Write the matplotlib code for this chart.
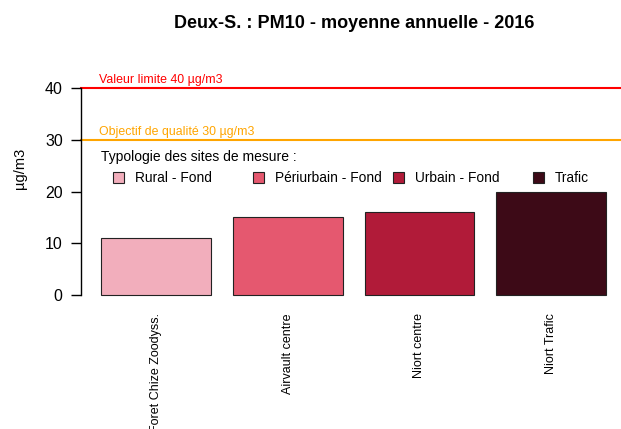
import matplotlib
matplotlib.use("Agg")
import matplotlib.pyplot as plt
from matplotlib.patches import Rectangle

sites = ["Foret Chize Zoodyss.", "Airvault centre", "Niort centre", "Niort Trafic"]
values = [11, 15, 16, 20]
types = ["Rural - Fond", "Périurbain - Fond", "Urbain - Fond", "Trafic"]
colors = ["#F2AEBC", "#E5586F", "#B11B39", "#3D0A17"]
yticks = [0, 10, 20, 30, 40]
limit_value = 40
quality_goal = 30

plt.rcParams['font.family'] = ['Liberation Sans', 'DejaVu Sans']

W, H = 621, 429
fig = plt.figure(figsize=(W / 100, H / 100), dpi=100)

# axes region in pixels
x0, x1 = 80.8, 621.0
y_top, y_bot = 79.7, 303.3
ax = fig.add_axes([x0 / W, 1 - y_bot / H, (x1 - x0) / W, (y_bot - y_top) / H])

centers = [0.7 + 1.2 * i for i in range(len(sites))]
ax.bar(centers, values, width=1.0, color=colors, edgecolor="#222222", linewidth=0.8, zorder=2)

ax.set_xlim(0.016, 0.016 + (x1 - x0) / 109.8)
ax.set_ylim(-1.6, 41.6)

for s in ["top", "right", "bottom"]:
    ax.spines[s].set_visible(False)
ax.spines["left"].set_bounds(0, 40)
ax.spines["left"].set_linewidth(1.0)
ax.set_yticks(yticks)
ax.set_yticklabels([str(v) for v in yticks], fontsize=11.5)
ax.tick_params(axis="y", length=7, width=1.0, pad=6)
ax.set_xticks(centers)
ax.set_xticklabels(sites, rotation=90, fontsize=9, va="top")
ax.tick_params(axis="x", length=0, pad=7)

fig.text(20 / W, 1 - 168 / H, "µg/m3", fontsize=10.5, rotation=90, ha="center", va="center")

ax.axhline(limit_value, color="#FF0000", linewidth=1.5, zorder=1, clip_on=False)
ax.axhline(quality_goal, color="#FFA500", linewidth=1.5, zorder=1, clip_on=False)
ax.text(0.18, limit_value + 0.3, "Valeur limite 40 µg/m3", color="#FF0000", fontsize=8.9, va="bottom", ha="left")
ax.text(0.18, quality_goal + 0.3, "Objectif de qualité 30 µg/m3", color="#FFA500", fontsize=8.9, va="bottom", ha="left")

# legend
fig.text(101 / W, 1 - 157 / H, "Typologie des sites de mesure :", fontsize=10, va="center", ha="left")
box_x = [113, 253, 393, 533]
for bx, lab, c in zip(box_x, types, colors):
    fig.patches.append(Rectangle((bx / W, 1 - 183 / H), 11 / W, 11 / H, transform=fig.transFigure,
                                 facecolor=c, edgecolor="#222222", linewidth=0.8))
    fig.text((bx + 22) / W, 1 - 178 / H, lab, fontsize=9.9, va="center", ha="left")

fig.text(354 / W, 1 - 24 / H, "Deux-S. : PM10 - moyenne annuelle - 2016", fontsize=13,
         fontweight="bold", ha="center", va="center")

fig.savefig("out.png", dpi=100)
